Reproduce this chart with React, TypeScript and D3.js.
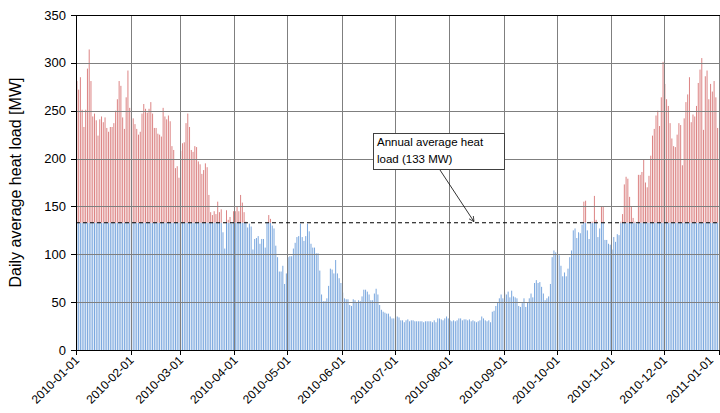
import React from "react";
import * as d3 from "d3";

const jan = [281,272,285,251,233,251,294,314,281,244,247,240,224,241,244,238,243,232,228,233,233,237,250,262,281,276,243,231,264,292,253];
const feb = [246,242,236,231,225,228,247,257,252,248,252,259,247,232,232,226,225,223,253,244,241,245,239,213,209,190,192,180];
const mar = [208,216,217,237,247,233,209,207,213,212,197,194,184,188,195,191,162,144,141,145,142,155,144,147,123,106,146,136,139,132,145];
const apr = [145,150,145,162,154,144,134,128,132,129,105,116,117,119,111,116,116,107,133,141,137,130,127,109,97,82,82,88,69,80];
const may = [97,98,98,106,112,118,119,132,118,114,119,132,124,111,107,107,101,101,83,58,51,51,54,67,85,84,80,94,80,75,70];
const jun = [60,54,53,53,47,46,53,52,50,52,51,56,63,63,61,58,52,52,59,64,58,47,42,40,39,38,38,35,33,33];
const jul = [31,35,34,31,31,29,31,32,30,31,31,30,30,30,30,30,29,30,30,30,30,29,31,29,33,33,32,31,33,35,33];
const aug = [31,30,31,30,31,33,33,31,32,32,31,32,30,31,30,29,30,31,35,33,31,30,31,29,40,41,46,50,54,58,54];
const sep = [60,58,61,55,62,56,55,54,46,45,49,54,45,50,54,59,55,70,73,70,71,66,59,52,54,56,69,97,104,102];
const oct = [100,99,88,77,81,77,85,97,104,125,127,117,123,122,131,155,156,125,116,134,134,161,136,118,127,150,150,115,115,111,110];
const nov = [105,118,113,121,120,134,142,173,181,179,160,150,138,134,132,183,183,186,199,175,170,182,203,224,231,245,250,234,264,301];
const dec = [278,262,255,237,221,213,212,225,237,235,193,242,259,267,285,238,246,244,255,279,293,305,230,286,292,262,278,270,281,264,232];

const annualAverage = 133;
const yTicks = [0, 50, 100, 150, 200, 250, 300, 350];
const yLabel = "Daily average heat load [MW]";
const annotationLines = ["Annual average heat", "load (133 MW)"];

const values = [...jan, ...feb, ...mar, ...apr, ...may, ...jun, ...jul, ...aug, ...sep, ...oct, ...nov, ...dec];
const start = new Date(2010, 0, 1);
const end = new Date(2011, 0, 1);
const days = values.map((v, i) => ({ date: d3.timeDay.offset(start, i), value: v }));
const monthTicks = d3.timeMonth.range(start, d3.timeDay.offset(end, 1));

const W = 720, H = 413;
const left = 76, right = 718.5, frameRight = 720, top = 15, bottom = 350;

export default function App() {
  const x = d3.scaleTime().domain([start, end]).range([left, right]);
  const y = d3.scaleLinear().domain([0, 350]).range([bottom, top]);
  const dayW = (right - left) / 365;
  const barW = 1.0;
  const fmt = d3.timeFormat("%Y-%m-%d");
  const font = "'Liberation Sans', Arial, sans-serif";
  const yAvg = y(annualAverage);

  return (
    <svg width={W} height={H} style={{ position: "absolute", left: 0, top: 0, background: "#fff" }}>
      {/* bars */}
      {days.map((d, i) => {
        const bx = x(d.date) + dayW / 2 - barW / 2;
        const blueTop = Math.min(d.value, annualAverage);
        return (
          <g key={i}>
            <rect x={bx} y={y(blueTop)} width={barW} height={y(0) - y(blueTop)} fill="#7aa7de" />
            {d.value > annualAverage && (
              <rect x={bx} y={y(d.value)} width={barW} height={y(annualAverage) - y(d.value)} fill="#dc8484" />
            )}
          </g>
        );
      })}
      {/* gridlines */}
      {yTicks.filter((t) => t > 0 && t < 350).map((t) => (
        <line key={"gy" + t} x1={left} x2={frameRight} y1={Math.round(y(t)) + 0.5} y2={Math.round(y(t)) + 0.5} stroke="#7f7f7f" strokeWidth={1} />
      ))}
      {monthTicks.slice(1).map((m, i) => (
        <line key={"gx" + i} x1={Math.round(x(m)) + 0.5} x2={Math.round(x(m)) + 0.5} y1={top} y2={bottom} stroke="#7f7f7f" strokeWidth={1} />
      ))}
      {/* average line */}
      <line x1={left} x2={frameRight} y1={yAvg} y2={yAvg} stroke="#000" strokeWidth={1.1} strokeDasharray="4,3" />
      {/* axes frame */}
      <line x1={left + 0.5} x2={left + 0.5} y1={top} y2={bottom + 0.5} stroke="#000" />
      <line x1={left} x2={frameRight} y1={top + 0.5} y2={top + 0.5} stroke="#000" />
      <line x1={left} x2={frameRight} y1={bottom + 0.5} y2={bottom + 0.5} stroke="#000" />
      {/* y ticks */}
      {yTicks.map((t) => (
        <g key={"yt" + t}>
          <line x1={left - 5} x2={left} y1={Math.round(y(t)) + 0.5} y2={Math.round(y(t)) + 0.5} stroke="#000" />
          <text x={66} y={y(t)} dy="0.35em" textAnchor="end" fontFamily={font} fontSize={13} fill="#000">{t}</text>
        </g>
      ))}
      {/* x ticks */}
      {monthTicks.map((m, i) => {
        const tx = Math.round(x(m)) + 0.5;
        const lx = Math.min(x(m) + 4, 714);
        return (
          <g key={"xt" + i}>
            <line x1={tx} x2={tx} y1={bottom} y2={bottom + 5} stroke="#000" />
            <text transform={`translate(${lx},${bottom + 11}) rotate(-45)`} textAnchor="end" fontFamily={font} fontSize={12} fill="#000">{fmt(m)}</text>
          </g>
        );
      })}
      {/* y label */}
      <text transform={`translate(21,${(top + bottom) / 2}) rotate(-90)`} textAnchor="middle" fontFamily={font} fontSize={16} fill="#000">{yLabel}</text>
      {/* annotation */}
      <defs>
        <marker id="arr" viewBox="0 0 10 10" refX="10" refY="5" markerWidth="7" markerHeight="7" orient="auto">
          <path d="M0,0 L10,5 L0,10" fill="none" stroke="#000" strokeWidth={1.2} />
        </marker>
      </defs>
      <line x1={440} y1={170} x2={474} y2={yAvg - 1} stroke="#000" strokeWidth={0.8} markerEnd="url(#arr)" />
      <rect x={373.5} y={133.5} width={131} height={36} fill="#fff" stroke="#404040" strokeWidth={1} />
      {annotationLines.map((l, i) => (
        <text key={i} x={377} y={146 + i * 17} fontFamily={font} fontSize={11.5} fill="#000">{l}</text>
      ))}
    </svg>
  );
}
